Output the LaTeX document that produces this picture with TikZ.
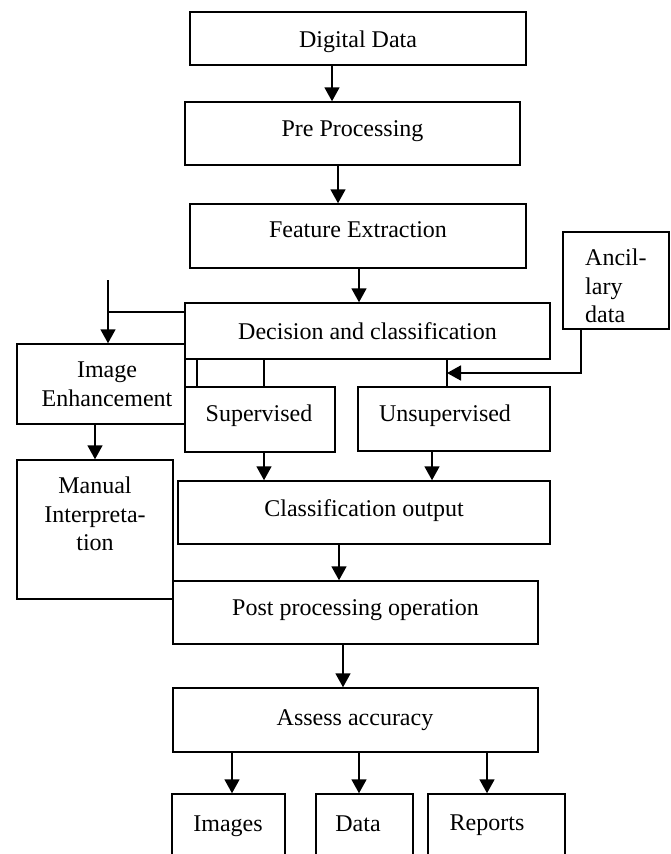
\documentclass[tikz,border=0pt]{standalone}
\usepackage{fontspec}
\setmainfont{Liberation Serif}
\usetikzlibrary{arrows.meta}
\begin{document}
\begin{tikzpicture}[x=1pt,y=-1pt,
  box/.style={draw,line width=1.5pt,inner sep=0pt},
  txt/.style={inner sep=0pt,text height=16pt,text depth=0pt,font=\fontsize{24}{28.5}\selectfont},
  mtxt/.style={inner sep=0pt,align=center,font=\fontsize{24}{28.5}\selectfont,anchor=north},
  ln/.style={line width=1.6pt},
  arr/.style={line width=1.8pt,-{Triangle[width=15pt,length=14pt]}}]
\useasboundingbox (0,0) rectangle (671,854);
\clip (0,0) rectangle (671,854);
% boxes
\node[box,minimum width=336pt,minimum height=53pt] (dd) at (358,38.5) {};
\node[box,minimum width=335pt,minimum height=63pt] (pp) at (352.5,133.5) {};
\node[box,minimum width=336pt,minimum height=64pt] (fe) at (358,236) {};
\node[box,minimum width=106pt,minimum height=97pt] (anc) at (616,280.5) {};
\node[box,minimum width=365pt,minimum height=56pt] (dc) at (367.5,331) {};
\node[box,minimum width=168pt,minimum height=80pt] (ie) at (101,384) {};
\node[box,minimum width=150pt,minimum height=65pt] (sup) at (260,419.5) {};
\node[box,minimum width=192pt,minimum height=64pt] (uns) at (454,419) {};
\node[box,minimum width=156pt,minimum height=139pt] (mi) at (95,529.5) {};
\node[box,minimum width=372pt,minimum height=63pt] (co) at (364,512.5) {};
\node[box,minimum width=365pt,minimum height=63pt] (pp2) at (355.5,612.5) {};
\node[box,minimum width=365pt,minimum height=64pt] (aa) at (355.5,720) {};
\node[box,minimum width=113pt,minimum height=86pt] (img) at (228.5,837) {};
\node[box,minimum width=97pt,minimum height=86pt] (dat) at (364.5,837) {};
\node[box,minimum width=137pt,minimum height=86pt] (rep) at (496.5,837) {};
% texts
\node[txt] (ddt) at (358,39) {Digital Data};
\node[txt] (ppt) at (352.5,128) {Pre Processing};
\node[txt] (fet) at (358,229) {Feature Extraction};
\node[mtxt,anchor=north west,align=left] (anct) at (585,249) {Ancil-\\lary\\data};
\node[txt] (dct) at (367.5,331) {Decision and classification};
\node[mtxt] (iet) at (107,362) {Image\\Enhancement};
\node[txt] (supt) at (259,413) {Supervised};
\node[txt] (unst) at (445,413) {Unsupervised};
\node[mtxt] (mit) at (95,477) {Manual\\Interpreta-\\tion};
\node[txt] (cot) at (364,508) {Classification output};
\node[txt] (pp2t) at (355.5,607) {Post processing operation};
\node[txt] (aat) at (355,717) {Assess accuracy};
\node[txt] (imgt) at (228,823) {Images};
\node[txt] (datt) at (358,823) {Data};
\node[txt] (rept) at (487,822) {Reports};
% connectors
\draw[arr] (dd.south -| 332,0) -- (pp.north -| 332,0);
\draw[arr] (pp.south -| 338,0) -- (fe.north -| 338,0);
\draw[arr] (fe.south -| 359,0) -- (dc.north -| 359,0);
\coordinate (lt) at (108,280);
\draw[arr] (lt) -- (ie.north -| lt);
\draw[ln] (lt |- 0,312) -- (dc.west |- 0,312);
\draw[ln] (dc.south -| 197,0) -- (sup.north -| 197,0);
\draw[ln] (dc.south -| 264,0) -- (sup.north -| 264,0);
\draw[ln] (dc.south -| 447,0) -- (uns.north -| 447,0);
\draw[arr] (anc.south -| 581,0) -- (581,373) -- (447,373);
\draw[arr] (ie.south -| 95,0) -- (mi.north -| 95,0);
\draw[arr] (sup.south -| 264,0) -- (co.north -| 264,0);
\draw[arr] (uns.south -| 432,0) -- (co.north -| 432,0);
\draw[arr] (co.south -| 339,0) -- (pp2.north -| 339,0);
\draw[arr] (pp2.south -| 343,0) -- (aa.north -| 343,0);
\draw[arr] (aa.south -| 232,0) -- (img.north -| 232,0);
\draw[arr] (aa.south -| 359,0) -- (dat.north -| 359,0);
\draw[arr] (aa.south -| 487,0) -- (rep.north -| 487,0);
\end{tikzpicture}
\end{document}
